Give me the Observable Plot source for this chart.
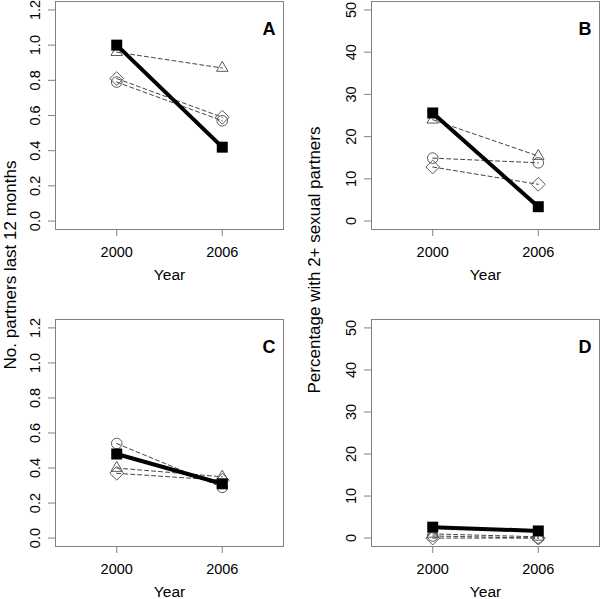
<!DOCTYPE html>
<html>
<head>
<meta charset="utf-8">
<script src="https://cdn.jsdelivr.net/npm/d3@7"></script>
<script src="https://cdn.jsdelivr.net/npm/@observablehq/plot@0.6"></script>
<style>
  html, body { margin: 0; padding: 0; background: white; }
  #fig { position: relative; width: 600px; height: 599px; overflow: hidden; background: white; font-family: "Liberation Sans", Arial, sans-serif; }
  #fig > .panel { position: absolute; }
  .ylab { position: absolute; white-space: nowrap; font-size: 17px; color: #000; transform: translate(-50%, -50%) rotate(-90deg); line-height: 1; }
</style>
</head>
<body>
<div id="fig"></div>
<script>
// ---- data ----
const years = [2000, 2006];
const partnerTicks = [0, 0.2, 0.4, 0.6, 0.8, 1.0, 1.2];
const percentTicks = [0, 10, 20, 30, 40, 50];
const panelLetters = ["A", "B", "C", "D"];
const xTitle = "Year";
const yTitleLeft = "No. partners last 12 months";
const yTitleRight = "Percentage with 2+ sexual partners";

// Panel A: no. partners (top)
const aSquare   = [1.00, 0.42];
const aTriangle = [0.96, 0.87];
const aCircle   = [0.79, 0.57];
const aDiamond  = [0.81, 0.59];
// Panel B: percentage 2+ partners (top)
const bSquare   = [25.6, 3.4];
const bTriangle = [24.0, 15.4];
const bCircle   = [14.9, 13.8];
const bDiamond  = [12.8, 8.7];
// Panel C: no. partners (bottom)
const cSquare   = [0.48, 0.31];
const cTriangle = [0.40, 0.35];
const cCircle   = [0.54, 0.29];
const cDiamond  = [0.37, 0.33];
// Panel D: percentage 2+ partners (bottom)
const dSquare   = [2.6, 1.7];
const dTriangle = [1.0, 0.3];
const dCircle   = [0.5, 0.0];
const dDiamond  = [0.0, 0.0];

// ---- helpers ----
const rows = (values, name) => years.map((year, i) => ({year, value: values[i], series: name}));
const xDomain = [1996.52, 2009.48];
const grey = "#808080";

function panel({sq, tri, cir, dia, yDomain, yTicks, yFormat, letter, height, marginLeft, marginRight, marginBottom}) {
  const squares = rows(sq, "square");
  const open = [...rows(tri, "triangle"), ...rows(cir, "circle"), ...rows(dia, "diamond")];
  return Plot.plot({
    width: 300,
    height,
    marginLeft, marginRight, marginTop: 1, marginBottom,
    x: {domain: xDomain},
    y: {domain: yDomain},
    style: {fontFamily: "'Liberation Sans', Arial, sans-serif", fontSize: "14.5px", color: "#000", background: "white", overflow: "visible"},
    marks: [
      Plot.frame({stroke: grey}),
      Plot.axisX(years, {tickSize: 7, tickPadding: 10, stroke: grey, tickFormat: d => String(d), label: null, fontSize: 14.5}),
      Plot.axisY(yTicks, {tickSize: 7, tickPadding: 9, tickRotate: -90, stroke: grey, tickFormat: yFormat, label: null, fontSize: 14.5}),
      Plot.text([xTitle], {text: d => d, frameAnchor: "bottom", dy: 50, lineAnchor: "bottom", fontSize: 15.5}),
      Plot.text([letter], {text: d => d, frameAnchor: "top-right", dx: -8, dy: 28, lineAnchor: "middle", textAnchor: "end", fontSize: 18, fontWeight: "bold"}),
      Plot.line(open, {x: "year", y: "value", z: "series", stroke: "#444", strokeWidth: 1, strokeDasharray: "4,3"}),
      Plot.dot(open.filter(d => d.series === "triangle"), {x: "year", y: "value", symbol: "triangle2", r: 5.5, stroke: "#5a5a5a", fill: "none", strokeWidth: 1}),
      Plot.dot(open.filter(d => d.series === "circle"), {x: "year", y: "value", symbol: "circle", r: 5.3, stroke: "#5a5a5a", fill: "none", strokeWidth: 1}),
      Plot.dot(open.filter(d => d.series === "diamond"), {x: "year", y: "value", symbol: "diamond2", r: 6.2, stroke: "#5a5a5a", fill: "none", strokeWidth: 1}),
      Plot.line(squares, {x: "year", y: "value", stroke: "black", strokeWidth: 4}),
      Plot.dot(squares, {x: "year", y: "value", symbol: "square", r: 6.2, fill: "black", stroke: "none"})
    ]
  });
}

const fmt1 = d => d.toFixed(1);
const fmt0 = d => String(d);
const partnerDomain = [-0.048, 1.248];
const percentDomain = [-2, 52];

const specs = [
  {left: 0,   top: 0,   opts: {sq: aSquare, tri: aTriangle, cir: aCircle, dia: aDiamond, yDomain: partnerDomain, yTicks: partnerTicks, yFormat: fmt1, letter: panelLetters[0], height: 300, marginLeft: 55, marginRight: 17, marginBottom: 71}},
  {left: 300, top: 0,   opts: {sq: bSquare, tri: bTriangle, cir: bCircle, dia: bDiamond, yDomain: percentDomain, yTicks: percentTicks, yFormat: fmt0, letter: panelLetters[1], height: 300, marginLeft: 71, marginRight: 1, marginBottom: 71}},
  {left: 0,   top: 318, opts: {sq: cSquare, tri: cTriangle, cir: cCircle, dia: cDiamond, yDomain: partnerDomain, yTicks: partnerTicks, yFormat: fmt1, letter: panelLetters[2], height: 281, marginLeft: 55, marginRight: 17, marginBottom: 53}},
  {left: 300, top: 318, opts: {sq: dSquare, tri: dTriangle, cir: dCircle, dia: dDiamond, yDomain: percentDomain, yTicks: percentTicks, yFormat: fmt0, letter: panelLetters[3], height: 281, marginLeft: 71, marginRight: 1, marginBottom: 53}}
];

const fig = document.getElementById("fig");
for (const s of specs) {
  const wrap = document.createElement("div");
  wrap.className = "panel";
  wrap.style.left = s.left + "px";
  wrap.style.top = s.top + "px";
  wrap.appendChild(panel(s.opts));
  fig.appendChild(wrap);
}

function yLabel(text, cx, cy) {
  const el = document.createElement("div");
  el.className = "ylab";
  el.textContent = text;
  el.style.left = cx + "px";
  el.style.top = cy + "px";
  fig.appendChild(el);
}
yLabel(yTitleLeft, 9.5, 265);
yLabel(yTitleRight, 314, 260);
</script>
</body>
</html>
